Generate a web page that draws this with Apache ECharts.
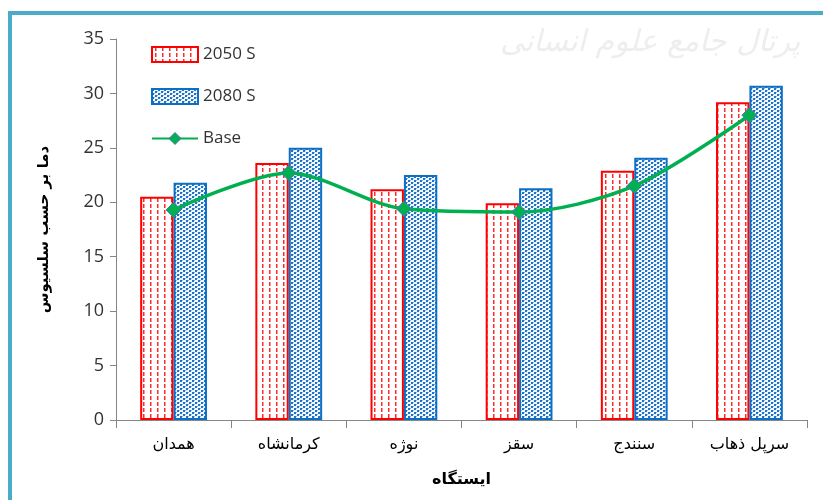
<!DOCTYPE html>
<html>
<head>
<meta charset="utf-8">
<script src="https://cdn.jsdelivr.net/npm/echarts@6/dist/echarts.min.js"></script>
<style>
  html, body { margin: 0; padding: 0; background: #fff; }
  #main { width: 823px; height: 500px; }
</style>
</head>
<body>
<div id="main"></div>
<script>
var stations = ['همدان', 'کرمانشاه', 'نوژه', 'سقز', 'سنندج', 'سرپل ذهاب'];
var s2050 = [20.5, 23.6, 21.2, 19.9, 22.9, 29.2];
var s2080 = [21.8, 25.0, 22.5, 21.3, 24.1, 30.7];
var base = [19.3, 22.7, 19.4, 19.1, 21.5, 28.0];
var yTicks = [0, 35, 5];

// hatch fills like the excel patterns
function makePattern(w, h, draw) {
    var c = document.createElement('canvas');
    c.width = w; c.height = h;
    var ctx = c.getContext('2d');
    draw(ctx);
    return { image: c, repeat: 'repeat' };
}
var redFill = makePattern(7, 6, function (ctx) {
    ctx.fillStyle = '#fff';
    ctx.fillRect(0, 0, 7, 6);
    ctx.fillStyle = '#ff2a2a';
    ctx.fillRect(3, 0, 1.5, 4);
});
var blueFill = makePattern(6, 4, function (ctx) {
    ctx.fillStyle = '#f2f7fd';
    ctx.fillRect(0, 0, 6, 4);
    ctx.fillStyle = '#1f72c6';
    ctx.fillRect(0, 0, 2, 2);
    ctx.fillRect(3, 2, 2, 2);
    ctx.fillStyle = '#8dbbe8';
    ctx.fillRect(2, 0, 1, 1);
    ctx.fillRect(5, 2, 1, 1);
});

var myChart = echarts.init(document.getElementById('main'));

var option = {
    backgroundColor: '#fff',
    animation: false,
    graphic: [
        { type: 'rect', shape: { x: 8, y: 11, width: 815, height: 4 }, style: { fill: '#4aacc7' }, z: 10 },
        { type: 'rect', shape: { x: 8, y: 11, width: 4, height: 489 }, style: { fill: '#4aacc7' }, z: 10 },
        { type: 'text', left: 500, top: 28, z: -1,
          style: { text: 'پرتال جامع علوم انسانی', fill: '#eeeeee', font: 'italic 30px "DejaVu Sans"' } }
    ],
    legend: {
        orient: 'vertical',
        left: 146,
        top: 41,
        itemGap: 25,
        itemWidth: 46,
        itemHeight: 15,
        textStyle: { fontFamily: 'Open Sans', fontSize: 17, color: '#333' },
        data: [
            { name: '2050 S', icon: 'rect' },
            { name: '2080 S', icon: 'rect' },
            { name: 'Base', itemStyle: { color: '#00b050', borderColor: '#4a78b8', borderWidth: 1 } }
        ]
    },
    grid: {
        left: 116,
        right: 16,
        top: 39,
        bottom: 80
    },
    xAxis: {
        type: 'category',
        data: stations,
        name: 'ایستگاه',
        nameLocation: 'middle',
        nameGap: 52,
        nameTextStyle: { fontFamily: 'DejaVu Sans', fontSize: 16, fontWeight: 'bold', color: '#000' },
        axisLine: { lineStyle: { color: '#868686', width: 1 } },
        axisTick: { show: true, length: 8, lineStyle: { color: '#868686' } },
        axisLabel: { fontFamily: 'DejaVu Sans', fontSize: 16, color: '#000', margin: 17 }
    },
    yAxis: {
        type: 'value',
        min: yTicks[0],
        max: yTicks[1],
        interval: yTicks[2],
        name: 'دما بر حسب سلسیوس',
        nameLocation: 'middle',
        nameGap: 64,
        nameRotate: 90,
        nameTextStyle: { fontFamily: 'DejaVu Sans', fontSize: 15, fontWeight: 'bold', color: '#000' },
        axisLine: { show: true, lineStyle: { color: '#868686', width: 1 } },
        axisTick: { show: true, length: 6, lineStyle: { color: '#868686' } },
        splitLine: { show: false },
        axisLabel: { fontFamily: 'Open Sans', fontSize: 18, color: '#333', margin: 12 }
    },
    series: [
        {
            name: '2050 S',
            type: 'bar',
            barGap: '0%',
            barCategoryGap: '42%',
            itemStyle: { color: redFill, borderColor: '#ff0000', borderWidth: 2 },
            data: s2050
        },
        {
            name: '2080 S',
            type: 'bar',
            itemStyle: { color: blueFill, borderColor: '#0b6fc4', borderWidth: 2 },
            data: s2080
        },
        {
            name: 'Base',
            type: 'line',
            smooth: 0.3,
            symbol: 'diamond',
            symbolSize: 15,
            lineStyle: { color: '#00b050', width: 3.5 },
            itemStyle: { color: '#00b050', borderColor: '#4a78b8', borderWidth: 1 },
            z: 5,
            data: base
        }
    ]
};
myChart.setOption(option);
</script>
</body>
</html>
